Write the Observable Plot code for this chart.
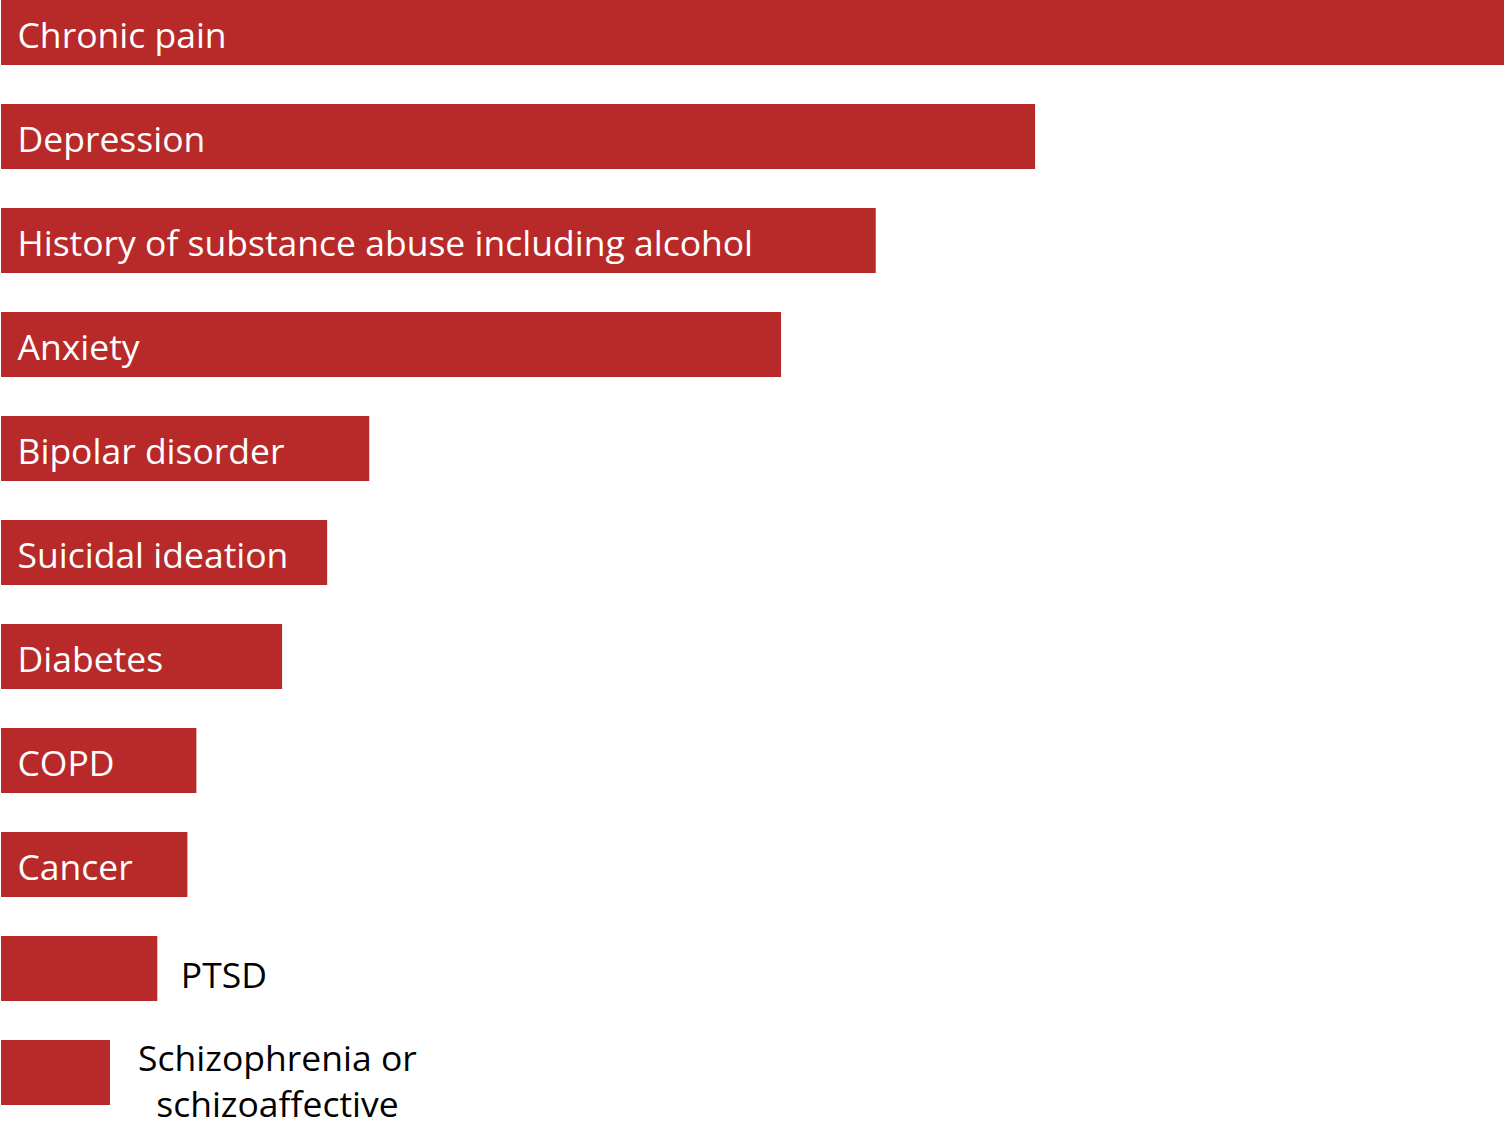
<!DOCTYPE html>
<html>
<head>
<meta charset="utf-8">
<script src="https://cdn.jsdelivr.net/npm/d3@7"></script>
<script src="https://cdn.jsdelivr.net/npm/@observablehq/plot@0.6"></script>
<style>
  html, body { margin: 0; padding: 0; background: #fff; }
  #chart svg { display: block; }
</style>
</head>
<body>
<div id="chart"></div>
<script>
// Categories (top to bottom) and relative values (share of the largest, %)
const categories = [
  "Chronic pain",
  "Depression",
  "History of substance abuse including alcohol",
  "Anxiety",
  "Bipolar disorder",
  "Suicidal ideation",
  "Diabetes",
  "COPD",
  "Cancer",
  "PTSD",
  "Schizophrenia or\nschizoaffective"
];
const values = [100, 68.8, 58.2, 51.9, 24.5, 21.7, 18.7, 13.0, 12.4, 10.4, 7.25];
// Whether the label sits inside the bar (true) or after it (false)
const labelInside = [true, true, true, true, true, true, true, true, true, false, false];

const data = categories.map((c, i) => ({category: c, value: values[i], inside: labelInside[i]}));

const RED = "#B8292A";
const FONT = "'Open Sans', 'Noto Sans', sans-serif";

const chart = Plot.plot({
  width: 1505,
  height: 1127,
  margin: 0,
  style: {fontFamily: FONT, background: "#fff"},
  x: {domain: [0, d3.max(values)], range: [1, 1504], axis: null},
  y: {domain: categories, range: [0, 1105], paddingInner: 0.375, paddingOuter: 0, axis: null},
  marks: [
    Plot.barX(data, {x: "value", y: "category", fill: RED}),
    Plot.text(data.filter(d => d.inside), {
      x: 0, y: "category", text: "category",
      textAnchor: "start", dx: 16, dy: 4,
      fill: "#fff", fontSize: 35.5
    }),
    Plot.text(data.filter(d => !d.inside && !d.category.includes("\n")), {
      x: "value", y: "category", text: "category",
      textAnchor: "start", dx: 23, dy: 8,
      fill: "#000", fontSize: 35.5
    }),
    Plot.text(data.filter(d => !d.inside && d.category.includes("\n")), {
      x: "value", y: "category", text: "category",
      textAnchor: "middle", dx: 167, dy: 6, lineHeight: 1.32,
      fill: "#000", fontSize: 35.5
    })
  ]
});
document.getElementById("chart").appendChild(chart);
</script>
</body>
</html>
